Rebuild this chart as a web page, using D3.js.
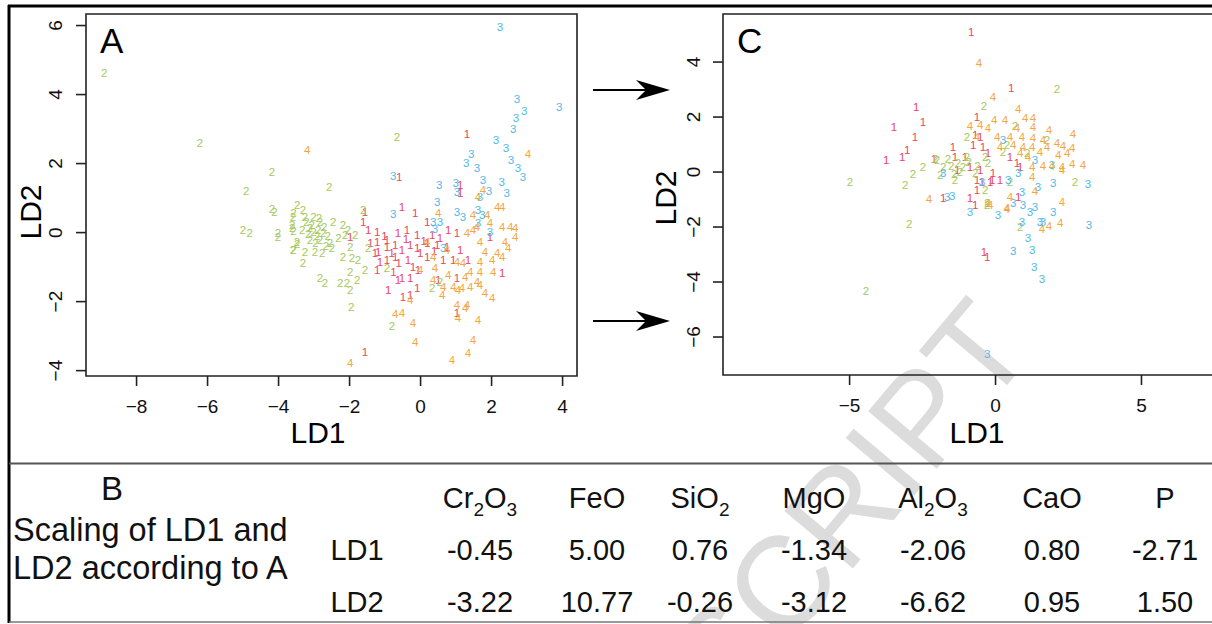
<!DOCTYPE html>
<html>
<head>
<meta charset="utf-8">
<script src="https://cdn.jsdelivr.net/npm/d3@7"></script>
<style>
  body { margin: 0; background: #fff; }
  svg { display: block; }
  text { font-family: "Liberation Sans", Arial, Helvetica, sans-serif; }
</style>
</head>
<body>
<script>
// group labels and colours used for the plotted digits
const groupLabels = ['1', '2', '3', '4']
const groupColors = ['#e9475f', '#a6c95c', '#4fb9e9', '#f4a63c']

// panel A, LD1/LD2 scores
const aGroup1 = [[1.32,2.84],[-0.59,1.59],[1.13,1.36],[1.13,1.13],[-1.55,0.58],[-0.51,0.72],[-0.14,0.55],[0.2,0.29],
  [-1.6,0.29],[-1.46,0.06],[-1.21,0],[-1.97,-0.14],[-1.21,-0.29],[-0.93,-0.23],[-0.62,-0.03],[-0.37,0.06],[-0.08,-0.09],
  [0.34,-0.09],[0.56,-0.17],[0.79,0.06],[1.04,-0.03],[-1.27,-0.61],[-1.18,-0.58],[-0.93,-0.43],[-0.7,-0.38],[-0.51,-0.52],
  [-0.28,-0.38],[-0.08,-0.46],[0.2,-0.32],[0.48,-0.38],[0.76,-0.43],[1.13,-0.52],[-1.13,-0.87],[-0.93,-0.81],[-0.7,-0.72],
  [-0.34,-0.81],[0.2,-0.72],[0.65,-0.81],[0.93,-0.81],[1.35,-0.81],[-1.21,-1.1],[-0.62,-1.39],[-0.51,-1.33],[-0.28,-1.33],
  [-0.06,-1.1],[0.51,-1.39],[1.04,-1.33],[2.31,-1.19],[-0.9,-1.68],[-0.08,-1.62],[-0.48,-1.88],[-0.28,-1.83],[1.04,-2.35],
  [-1.55,-3.48],[1.97,-0.14],[-0.8,-0.6],[-0.6,-0.9],[-0.4,-0.2],[-1.0,-0.1],[0.0,-0.6],[-0.2,-1.0],[0.4,-0.55],[-1.4,-0.3],
  [-0.75,-1.15],[0.1,-0.25]]
const aGroup2 = [[-8.9,4.6],[-6.2,2.58],[-4.17,1.74],[-4.9,1.19],[-4.17,0.67],[-4.1,0.6],[-4.99,0.06],[-4.8,-0.03],
  [-4.0,-0.03],[-4.0,-0.15],[-3.57,0.55],[-3.6,0.2],[-3.57,0.05],[-3.57,-0.52],[-3.46,-0.33],[-3.46,0.78],[-3.3,0.64],
  [-3.58,0.43],[-3.24,0.43],[-3.0,0.43],[-2.82,0.29],[-3.6,0.12],[-3.32,0.06],[-3.1,0.12],[-2.87,0.06],[-2.73,-0.03],
  [-2.45,0.29],[-2.17,0.2],[-2.03,0.06],[-1.83,-0.09],[-2.11,-0.09],[-3.47,-0.29],[-3.1,-0.23],[-2.82,-0.23],[-2.54,-0.32],
  [-2.3,-0.17],[-3.58,-0.52],[-3.24,-0.58],[-2.96,-0.58],[-2.76,-0.61],[-2.48,-0.46],[-1.97,-0.43],[-1.46,-0.46],
  [-2.17,-0.72],[-1.92,-0.75],[-1.75,-0.81],[-3.3,-0.9],[-1.97,-1.16],[-1.55,-1.1],[-0.93,-1.04],[-2.82,-1.33],
  [-2.68,-1.48],[-2.25,-1.48],[-2.06,-1.48],[-1.77,-1.39],[-1.97,-1.68],[-1.94,-2.17],[-0.79,-2.72],[0.34,-1.62],
  [0.56,-1.45],[-1.6,0.64],[-0.65,2.75],[-2.56,1.3],[-3.0,0.0],[-2.9,-0.1],[-3.05,0.2],[-2.95,-0.3],[-3.15,-0.05],
  [-2.7,0.15],[-2.6,-0.1],[-3.2,0.3],[-2.85,0.4],[-2.65,-0.4]]
const aGroup3 = [[2.25,5.94],[2.73,3.86],[2.93,3.5],[3.92,3.62],[2.7,3.3],[2.62,3.0],[2.14,2.67],[2.42,2.43],[1.44,2.28],
  [1.3,2.0],[1.6,1.85],[2.56,2.09],[2.76,1.85],[2.9,1.6],[-0.76,1.62],[0.54,1.36],[1.0,1.42],[1.04,1.16],[1.77,1.5],
  [2.3,1.45],[1.94,1.19],[2.44,1.13],[0.48,0.87],[-0.76,0.52],[1.04,0.58],[1.21,0.43],[0.37,0.29],[0.56,0.29],[0.42,0.09],
  [1.63,0.64],[1.75,0.49],[1.63,0.26],[1.97,0],[0.65,-0.46],[1.69,1.01]]
const aGroup4 = [[3.04,2.28],[-3.18,2.38],[1.77,1.22],[1.63,1.01],[0.51,0.55],[1.49,0.49],[1.89,0.49],[2.17,0.72],
  [2.31,0.72],[0.2,-0.29],[1.32,-0.03],[1.49,0.06],[1.6,0.14],[1.97,0.26],[2.31,0.14],[2.54,0.14],[2.68,0.12],[2.68,-0.14],
  [2.39,-0.29],[2.48,-0.46],[1.69,-0.29],[1.83,-0.58],[2.17,-0.61],[2.31,-0.72],[0.37,-0.72],[0.76,-0.52],[1.04,-0.87],
  [1.21,-0.9],[1.69,-0.87],[2.03,-0.81],[2.06,-1.16],[1.69,-1.16],[1.41,-1.16],[0,-1.1],[0.42,-1.04],[0.79,-1.25],
  [1.27,-1.3],[1.6,-1.45],[0.37,-1.39],[0.65,-1.59],[0.93,-1.59],[1.18,-1.62],[1.41,-1.59],[1.69,-1.54],[0.62,-1.83],
  [1.07,-1.68],[1.83,-1.77],[2.03,-1.91],[-0.28,-1.97],[1.04,-2.12],[1.32,-2.12],[-0.7,-2.38],[-0.51,-2.35],[1.27,-2.2],
  [-0.2,-2.64],[1.07,-2.49],[1.63,-2.55],[-0.14,-3.19],[1.49,-3.13],[1.35,-3.51],[0.9,-3.71],[-1.97,-3.8]]

// panel C, scores
const cGroup1 = [[-2.7,2.34],[-2.47,1.8],[-3.46,1.62],[-2.74,1.25],[-3.01,0.78],[-3.18,0.53],[-3.73,0.42],[-2.09,0.45],
  [-0.82,5.07],[0.55,3.04],[-1.44,0.89],[-1.37,0.53],[-0.68,1.33],[-0.62,1.98],[-0.51,1.25],[-1.03,0.53],[-0.75,0.96],
  [-0.41,0.89],[-0.24,0.67],[-1.3,0.05],[-0.86,0.16],[-0.51,0.05],[-0.07,-0.05],[0.17,-0.31],[0.51,0.53],[0.75,0.31],
  [0.86,0.16],[-0.62,-0.31],[-0.45,-0.38],[-0.17,-0.38],[-0.62,-0.67],[-0.1,-0.31],[-1.78,-0.96],[-0.86,-0.96],
  [-0.68,-1.22],[0.79,-0.93],[-0.38,-2.93],[-0.27,-3.11]]
const cGroup2 = [[-4.97,-0.38],[-3.08,-0.49],[-2.81,-0.09],[-2.47,0.16],[-1.99,0.42],[-2.94,-1.91],[-4.42,-4.35],
  [2.12,3.0],[-0.38,2.38],[-0.96,1.25],[-2.05,0.45],[-1.61,0.45],[-1.78,0.16],[-1.27,0.31],[-0.96,0.53],[-1.1,0.16],
  [-1.88,-0.13],[0.41,0.96],[0.68,1.65],[1.1,0.67],[0.27,0.71],[-0.34,0.53],[-0.24,0.31],[0.51,-0.38],[2.74,-0.38],
  [-0.27,-1.15],[-0.34,-0.67],[-0.68,-0.05],[-1.37,-0.31],[1.78,1.15],[0.86,-2.02],[-0.27,-1.22],[-1.5,0.2],[-1.2,0.0],
  [-0.9,0.35],[-1.4,-0.1],[-0.6,0.2]]
const cGroup3 = [[0.27,1.15],[1.37,0.42],[1.95,0.24],[0.79,-0.05],[-0.45,-0.38],[0.45,-0.31],[-1.78,-0.05],[1.99,-0.42],
  [3.18,-0.45],[1.47,-0.56],[0.92,-0.75],[-1.64,-0.93],[-1.47,-0.89],[0.62,-1.15],[0.96,-1.22],[1.37,-1.29],[-0.86,-1.47],
  [0.1,-1.58],[1.2,-1.47],[1.99,-1.47],[0.92,-1.84],[1.54,-1.84],[1.64,-1.84],[3.22,-1.95],[1.13,-2.42],[0.62,-2.89],
  [1.27,-2.85],[1.34,-3.47],[1.61,-3.91],[-0.27,-6.64]]
const cGroup4 = [[-2.26,-1.0],[-0.55,3.95],[-0.07,2.71],[0.79,2.27],[-0.86,1.65],[-0.03,1.87],[0.34,1.87],[1.03,1.95],
  [1.3,1.95],[1.3,1.62],[1.85,1.51],[2.67,1.36],[0.75,1.58],[-0.24,1.58],[-0.51,1.69],[0.51,1.25],[0.92,1.25],[1.3,1.22],
  [1.64,1.15],[2.12,1.04],[2.33,0.93],[2.64,0.85],[2.47,0.67],[2.16,0.6],[1.78,0.89],[1.54,0.71],[1.27,0.89],[0.96,0.89],
  [0.86,0.67],[0.62,0.96],[0.07,1.25],[0.17,0.89],[1.13,0.53],[1.64,0.2],[1.95,0.2],[2.29,0.16],[2.64,0.27],[3.01,0.24],
  [2.29,0.05],[1.27,0.16],[1.27,-0.2],[1.37,-0.71],[0.51,-0.93],[2.29,-1.11],[0.41,-1.33],[-0.24,-1.15],[-0.62,1.25],
  [0.41,-1.37],[1.61,-2.09],[1.85,-1.98],[2.23,-1.87],[-0.17,-1.22]]

// axis ticks
const aXTicks = [-8, -6, -4, -2, 0, 2, 4]
const aYTicks = [-4, -2, 0, 2, 4, 6]
const cXTicks = [-5, 0, 5]
const cYTicks = [-6, -4, -2, 0, 2, 4]

// table B
const oxides = ['Cr_2O_3', 'FeO', 'SiO_2', 'MgO', 'Al_2O_3', 'CaO', 'P']
const ld1Scaling = ['-0.45', '5.00', '0.76', '-1.34', '-2.06', '0.80', '-2.71']
const ld2Scaling = ['-3.22', '10.77', '-0.26', '-3.12', '-6.62', '0.95', '1.50']

const width = 1212
const height = 624

const svg = d3.select('body')
    .append('svg')
    .attr('width', width)
    .attr('height', height)

// watermark
svg.append('text')
    .attr('transform', 'translate(730, 715) rotate(-50)')
    .attr('font-size', 130)
    .attr('fill', '#dcdcdc')
    .text('SCRIPT')

// outer frame
svg.append('line').attr('x1', 9).attr('x2', 9).attr('y1', 5).attr('y2', 623)
    .attr('stroke', '#000').attr('stroke-width', 3)
svg.append('line').attr('x1', 8).attr('x2', 1212).attr('y1', 6).attr('y2', 6)
    .attr('stroke', '#000').attr('stroke-width', 3)
svg.append('line').attr('x1', 9).attr('x2', 1212).attr('y1', 463.5).attr('y2', 463.5)
    .attr('stroke', '#555').attr('stroke-width', 2)
svg.append('line').attr('x1', 9).attr('x2', 1212).attr('y1', 622).attr('y2', 622)
    .attr('stroke', '#777').attr('stroke-width', 1.5)

function drawPanel(opts) {
    const g = svg.append('g')
    const [x0, x1] = opts.xs.range()
    const [y0, y1] = opts.ys.range()

    // plot box
    g.append('path')
        .attr('d', opts.openRight
            ? `M${x1},${y1}H${x0}V${y0}H${x1}`
            : `M${x0},${y1}H${x1}V${y0}H${x0}Z`)
        .attr('fill', 'none')
        .attr('stroke', '#222')
        .attr('stroke-width', 1.6)

    const xAxis = g.append('g')
        .attr('transform', `translate(0, ${y0})`)
        .call(d3.axisBottom(opts.xs).tickValues(opts.xTicks).tickSize(10).tickFormat(d3.format('d')))
    const yAxis = g.append('g')
        .attr('transform', `translate(${x0}, 0)`)
        .call(d3.axisLeft(opts.ys).tickValues(opts.yTicks).tickSize(10).tickFormat(d3.format('d')))
    for (let ax of [xAxis, yAxis]) {
        ax.select('.domain').remove()
        ax.attr('font-size', null).attr('font-family', null)
        ax.selectAll('line').attr('stroke', '#222').attr('stroke-width', 1.6)
        ax.selectAll('text').attr('font-size', 19).attr('fill', '#111')
    }
    xAxis.selectAll('text').attr('y', 37).attr('dy', 0)
    yAxis.selectAll('text')
        .attr('x', 0)
        .attr('y', -opts.yLabelGap)
        .attr('dy', 0)
        .attr('text-anchor', 'middle')
        .attr('transform', 'rotate(-90)')

    // axis titles
    g.append('text')
        .attr('x', opts.xTitleX).attr('y', 443)
        .attr('text-anchor', 'middle')
        .attr('font-size', 30)
        .text('LD1')
    g.append('text')
        .attr('transform', `translate(${opts.yTitleX}, ${opts.yTitleY}) rotate(-90)`)
        .attr('text-anchor', 'middle')
        .attr('font-size', 30)
        .text('LD2')

    // panel letter
    g.append('text')
        .attr('x', x0 + 14).attr('y', 53)
        .attr('font-size', 35)
        .text(opts.letter)

    // scores drawn as group digits
    const clip = 'clip-' + opts.letter
    svg.append('clipPath').attr('id', clip)
        .append('rect').attr('x', x0).attr('y', y1).attr('width', x1 - x0).attr('height', y0 - y1)
    const pts = g.append('g').attr('clip-path', `url(#${clip})`)
    opts.groups.forEach((data, i) => {
        pts.append('g')
            .selectAll('text')
            .data(data)
            .join('text')
            .attr('x', d => opts.xs(d[0]))
            .attr('y', d => opts.ys(d[1]))
            .attr('dy', '0.36em')
            .attr('text-anchor', 'middle')
            .attr('font-size', 11.5)
            .attr('fill', groupColors[i])
            .text(groupLabels[i])
    })
}

const xA = d3.scaleLinear().domain([-9.41, 4.42]).range([86, 577])
const yA = d3.scaleLinear().domain([-4.17, 6.32]).range([376, 14])
drawPanel({
    xs: xA, ys: yA, xTicks: aXTicks, yTicks: aYTicks,
    groups: [aGroup1, aGroup2, aGroup3, aGroup4],
    letter: 'A', yLabelGap: 24, xTitleX: 318, yTitleX: 41, yTitleY: 212, openRight: false
})

const xC = d3.scaleLinear().domain([-9.32, 7.57]).range([723, 1216])
const yC = d3.scaleLinear().domain([-7.4, 5.73]).range([375, 14])
drawPanel({
    xs: xC, ys: yC, xTicks: cXTicks, yTicks: cYTicks,
    groups: [cGroup1, cGroup2, cGroup3, cGroup4],
    letter: 'C', yLabelGap: 23, xTitleX: 977, yTitleX: 676, yTitleY: 198, openRight: true
})

// arrows from A to C
const arrowY = [90, 321]
const arrows = svg.append('g')
for (let y of arrowY) {
    arrows.append('line')
        .attr('x1', 593).attr('x2', 650).attr('y1', y).attr('y2', y)
        .attr('stroke', '#000').attr('stroke-width', 2)
    arrows.append('path')
        .attr('d', `M670,${y}L636,${y - 10}L646,${y}L636,${y + 10}Z`)
        .attr('fill', '#000')
}

// table B
const colX = [480, 597, 700, 814, 933, 1052, 1165]
const table = svg.append('g').attr('font-size', 29).attr('fill', '#111')
table.append('text').attr('x', 112).attr('y', 500).attr('text-anchor', 'middle').attr('font-size', 33).text('B')
table.append('text').attr('x', 13).attr('y', 541).attr('font-size', 32.5).text('Scaling of LD1 and')
table.append('text').attr('x', 13).attr('y', 579).attr('font-size', 32.5).text('LD2 according to A')

oxides.forEach((name, i) => {
    const t = table.append('text').attr('x', colX[i]).attr('y', 508).attr('text-anchor', 'middle')
    let prevSub = false
    name.split(/(_\d)/).filter(s => s.length).forEach(part => {
        if (part[0] === '_') {
            t.append('tspan').attr('font-size', 19).attr('dy', 8).text(part.slice(1))
            prevSub = true
        } else {
            t.append('tspan').attr('dy', prevSub ? -8 : 0).text(part)
            prevSub = false
        }
    })
})

const rows = [['LD1', ld1Scaling, 560], ['LD2', ld2Scaling, 612]]
for (let [label, vals, y] of rows) {
    table.append('text').attr('x', 357).attr('y', y).attr('text-anchor', 'middle').text(label)
    vals.forEach((v, i) => {
        table.append('text').attr('x', colX[i]).attr('y', y).attr('text-anchor', 'middle').text(v)
    })
}
</script>
</body>
</html>
